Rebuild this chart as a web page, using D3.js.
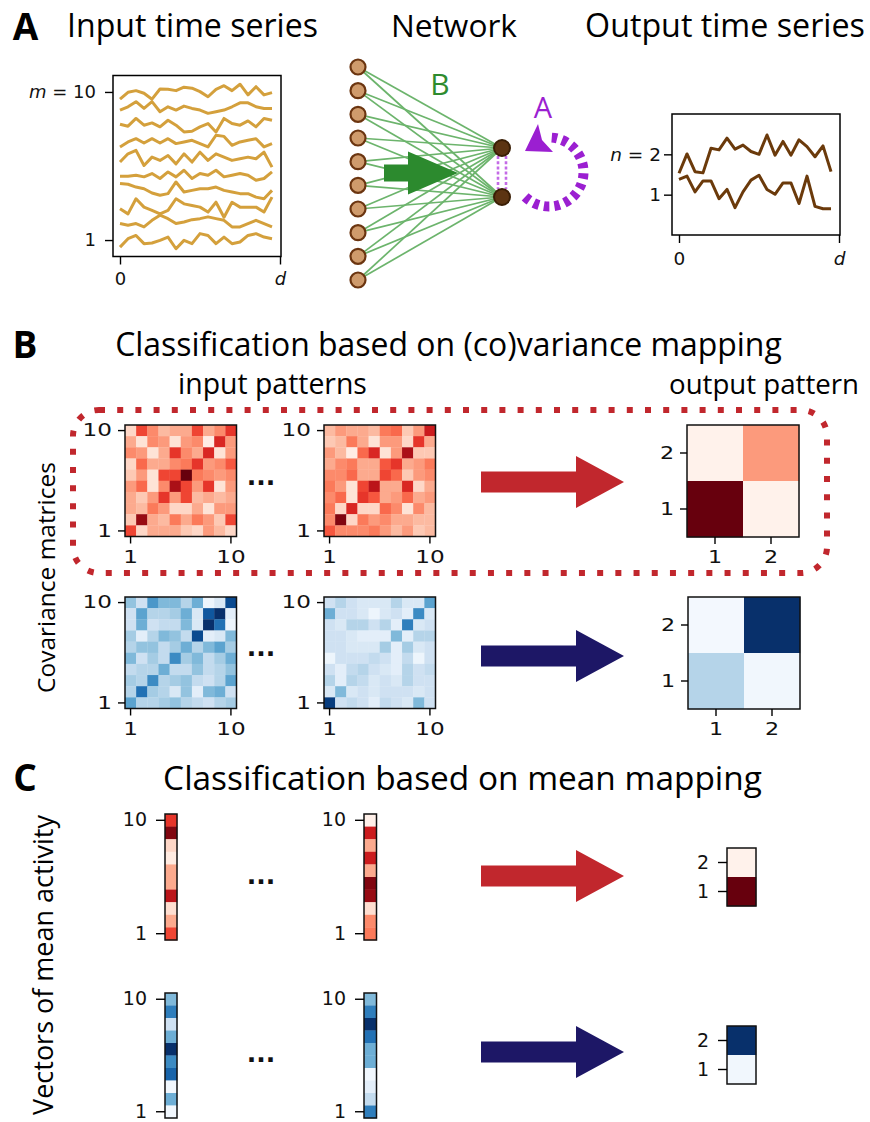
<!DOCTYPE html>
<html>
<head>
<meta charset="utf-8">
<script src="https://cdn.jsdelivr.net/npm/d3@7"></script>
<style>
  body { margin: 0; background: #fff; }
  svg { display: block; }
</style>
</head>
<body>
<svg id="fig" width="870" height="1122"></svg>
<script>
(function (d3) {
  'use strict';

  // time axis: 20 samples between 0 and d (d = 1)
  const T = d3.range(20).map((i) => i / 20);

  // input time series, m = 1 .. 10
  const inputSeries = [
    [0.57, 1.08, 1.28, 0.78, 0.82, 0.98, 1.18, 0.47, 0.98, 0.78, 1.39, 1.28, 0.78, 1.18, 0.78, 0.88, 1.28, 1.39, 1.18, 1.08],
    [2.00, 1.90, 2.00, 1.80, 2.20, 2.51, 2.30, 2.00, 2.10, 2.24, 2.30, 2.41, 2.30, 2.20, 1.80, 1.80, 2.00, 2.20, 2.00, 1.80],
    [2.90, 2.59, 3.51, 3.00, 2.80, 2.59, 2.80, 3.51, 3.20, 3.10, 3.00, 2.70, 3.30, 2.39, 3.30, 3.00, 3.00, 3.00, 2.70, 3.61],
    [4.43, 4.39, 4.22, 4.12, 3.86, 3.72, 3.82, 4.53, 3.92, 4.02, 4.12, 4.12, 4.22, 4.02, 3.92, 3.82, 3.82, 3.61, 3.51, 4.02],
    [4.88, 4.88, 4.94, 4.84, 5.04, 4.74, 5.14, 4.84, 5.24, 4.74, 5.04, 4.94, 5.24, 4.84, 4.94, 5.04, 4.94, 4.63, 4.74, 5.14],
    [5.74, 6.24, 6.45, 5.53, 6.04, 5.84, 6.14, 5.63, 6.24, 5.74, 6.34, 5.84, 6.24, 6.04, 5.84, 5.94, 6.04, 5.94, 6.34, 5.43],
    [6.66, 6.96, 7.16, 6.90, 7.16, 6.90, 7.16, 6.86, 6.96, 7.06, 6.86, 6.66, 7.37, 7.30, 6.76, 6.96, 7.06, 7.16, 6.66, 6.86],
    [8.04, 7.92, 8.39, 7.98, 8.12, 7.88, 8.28, 7.98, 7.57, 7.61, 7.88, 8.08, 7.57, 8.39, 8.08, 7.98, 8.24, 7.88, 8.39, 8.28],
    [8.90, 9.10, 9.41, 9.00, 9.41, 8.80, 9.10, 8.90, 9.14, 9.00, 8.90, 8.70, 8.80, 8.90, 9.10, 9.34, 9.34, 9.10, 9.00, 9.00],
    [9.56, 9.98, 10.08, 9.92, 9.56, 10.18, 10.16, 10.08, 10.29, 10.23, 10.02, 9.71, 10.16, 10.38, 10.08, 10.47, 9.82, 10.32, 9.82, 9.96],
  ];

  // output time series, n = 1, 2
  const outputSeries = [
    [1.38, 1.46, 1.07, 1.34, 1.34, 0.90, 1.13, 0.68, 1.07, 1.36, 1.48, 1.13, 1.01, 1.29, 1.29, 0.78, 1.46, 0.71, 0.65, 0.65],
    [1.53, 2.01, 1.57, 1.54, 2.15, 2.11, 2.40, 2.13, 2.23, 2.07, 2.00, 2.48, 1.98, 2.32, 1.98, 2.36, 2.19, 1.94, 2.21, 1.57],
  ];

  // covariance matrices, rows listed from top (10) to bottom (1), colour level 0..1
  const covRed1 = [
    [0.15, 0.60, 0.40, 0.25, 0.30, 0.30, 0.60, 0.30, 0.40, 0.65],
    [0.30, 0.10, 0.40, 0.35, 0.10, 0.35, 0.40, 0.05, 0.70, 0.35],
    [0.40, 0.35, 0.10, 0.30, 0.65, 0.40, 0.30, 0.70, 0.10, 0.35],
    [0.15, 0.50, 0.30, 0.30, 0.40, 0.45, 0.65, 0.35, 0.40, 0.55],
    [0.20, 0.35, 0.10, 0.60, 0.60, 1.00, 0.45, 0.40, 0.35, 0.40],
    [0.35, 0.50, 0.10, 0.40, 0.85, 0.60, 0.35, 0.65, 0.10, 0.35],
    [0.30, 0.20, 0.35, 0.65, 0.35, 0.60, 0.25, 0.30, 0.25, 0.30],
    [0.30, 0.25, 0.45, 0.35, 0.15, 0.15, 0.30, 0.10, 0.35, 0.35],
    [0.20, 0.90, 0.30, 0.25, 0.45, 0.30, 0.45, 0.35, 0.20, 0.60],
    [0.60, 0.15, 0.30, 0.30, 0.30, 0.20, 0.15, 0.35, 0.25, 0.15],
  ];
  const covRed2 = [
    [0.25, 0.35, 0.30, 0.30, 0.25, 0.45, 0.50, 0.20, 0.35, 0.75],
    [0.20, 0.25, 0.45, 0.30, 0.10, 0.35, 0.35, 0.15, 0.65, 0.30],
    [0.35, 0.25, 0.05, 0.50, 0.70, 0.10, 0.35, 0.85, 0.20, 0.20],
    [0.30, 0.40, 0.45, 0.30, 0.30, 0.55, 0.65, 0.30, 0.35, 0.45],
    [0.40, 0.40, 0.50, 0.30, 0.30, 0.60, 0.50, 0.20, 0.35, 0.40],
    [0.45, 0.35, 0.10, 0.60, 0.80, 0.30, 0.30, 0.70, 0.15, 0.30],
    [0.40, 0.50, 0.10, 0.65, 0.55, 0.30, 0.35, 0.50, 0.30, 0.35],
    [0.45, 0.15, 0.70, 0.15, 0.15, 0.50, 0.40, 0.10, 0.40, 0.25],
    [0.40, 0.95, 0.15, 0.45, 0.35, 0.40, 0.30, 0.30, 0.25, 0.25],
    [0.55, 0.40, 0.40, 0.40, 0.45, 0.35, 0.25, 0.35, 0.20, 0.25],
  ];
  const covBlue1 = [
    [0.40, 0.20, 0.60, 0.45, 0.45, 0.30, 0.50, 0.05, 0.15, 0.90],
    [0.20, 0.55, 0.30, 0.30, 0.35, 0.50, 0.15, 0.85, 1.00, 0.10],
    [0.20, 0.50, 0.20, 0.25, 0.25, 0.45, 0.15, 1.00, 0.75, 0.05],
    [0.35, 0.10, 0.30, 0.45, 0.40, 0.25, 0.90, 0.10, 0.15, 0.45],
    [0.30, 0.40, 0.40, 0.25, 0.35, 0.50, 0.30, 0.45, 0.55, 0.35],
    [0.45, 0.20, 0.35, 0.25, 0.65, 0.35, 0.45, 0.25, 0.35, 0.50],
    [0.25, 0.30, 0.30, 0.50, 0.25, 0.25, 0.40, 0.25, 0.30, 0.40],
    [0.35, 0.30, 0.65, 0.30, 0.35, 0.40, 0.25, 0.20, 0.30, 0.55],
    [0.30, 0.75, 0.35, 0.30, 0.15, 0.40, 0.10, 0.45, 0.50, 0.20],
    [0.55, 0.30, 0.30, 0.35, 0.40, 0.30, 0.25, 0.20, 0.30, 0.35],
  ];
  const covBlue2 = [
    [0.20, 0.30, 0.20, 0.15, 0.15, 0.15, 0.30, 0.15, 0.15, 0.55],
    [0.50, 0.20, 0.20, 0.15, 0.05, 0.15, 0.20, 0.10, 0.65, 0.15],
    [0.20, 0.15, 0.30, 0.30, 0.20, 0.30, 0.10, 0.70, 0.15, 0.20],
    [0.20, 0.20, 0.15, 0.10, 0.10, 0.10, 0.45, 0.10, 0.30, 0.30],
    [0.20, 0.20, 0.15, 0.15, 0.15, 0.35, 0.10, 0.35, 0.15, 0.20],
    [0.05, 0.20, 0.20, 0.20, 0.25, 0.20, 0.10, 0.25, 0.05, 0.20],
    [0.20, 0.10, 0.25, 0.30, 0.20, 0.15, 0.10, 0.30, 0.20, 0.25],
    [0.30, 0.10, 0.30, 0.25, 0.15, 0.20, 0.15, 0.30, 0.20, 0.20],
    [0.15, 0.45, 0.15, 0.20, 0.15, 0.20, 0.20, 0.20, 0.15, 0.20],
    [0.95, 0.20, 0.25, 0.20, 0.10, 0.25, 0.20, 0.15, 0.45, 0.20],
  ];
  // output covariance patterns, rows top (2) to bottom (1)
  const outCovRed = [[0.02, 0.35], [1.00, 0.02]];
  const outCovBlue = [[0.02, 1.00], [0.30, 0.03]];

  // mean activity vectors, listed top (10) to bottom (1)
  const meanRed1 = [0.65, 0.95, 0.15, 0.06, 0.30, 0.30, 0.80, 0.12, 0.30, 0.60];
  const meanRed2 = [0.03, 0.75, 0.30, 0.75, 0.30, 0.95, 0.90, 0.12, 0.40, 0.45];
  const meanBlue1 = [0.45, 0.70, 0.20, 0.50, 1.00, 0.65, 0.80, 0.03, 0.50, 0.03];
  const meanBlue2 = [0.45, 0.70, 1.00, 0.75, 0.50, 0.50, 0.03, 0.10, 0.25, 0.70];
  // output mean patterns, top (2) to bottom (1)
  const outMeanRed = [0.02, 1.00];
  const outMeanBlue = [1.00, 0.03];

  const TITLE_FONT = 'Open Sans';
  const TICK_FONT = 'DejaVu Sans';
  const TICK_SIZE = 18;
  const RED = '#c1272d';
  const NAVY = '#1d1766';

  const svg = d3.select('#fig');
  svg.append('rect').attr('width', 870).attr('height', 1122).attr('fill', '#fff');

  // text fitted to a horizontal span
  const fitText = (txt, x0, x1, baseline, opts = {}) => {
    const t = svg.append('text')
      .attr('text-anchor', 'middle')
      .attr('font-family', TITLE_FONT)
      .attr('font-weight', opts.bold ? 700 : 400)
      .attr('fill', opts.color || '#000')
      .attr('font-size', 30)
      .text(txt);
    const w = t.node().getComputedTextLength();
    t.attr('font-size', Math.min(opts.max || 99, 30 * (x1 - x0) / w));
    if (opts.rotate) {
      t.attr('transform', `translate(${baseline},${(x0 + x1) / 2}) rotate(-90)`);
    } else {
      t.attr('x', (x0 + x1) / 2).attr('y', baseline);
    }
    return t;
  };

  const styleAxis = (g, size = TICK_SIZE) => {
    g.attr('font-size', size).attr('font-family', TICK_FONT);
    g.select('.domain').remove();
    g.selectAll('.tick line').attr('stroke', '#000').attr('stroke-width', 1.4);
    g.selectAll('.tick text').attr('fill', '#111');
    return g;
  };

  const italicTick = (g, value, sym, rest) => {
    g.selectAll('.tick text').each(function (d) {
      if (d !== value) return;
      const t = d3.select(this).text('');
      t.append('tspan').attr('font-style', 'italic').text(sym);
      if (rest) t.append('tspan').text(rest);
    });
  };

  // ---------- Panel A ----------
  fitText('A', 12, 39, 40, { bold: true, max: 37 });
  fitText('Input time series', 67, 318, 37);
  fitText('Network', 391, 517, 37);
  fitText('Output time series', 585, 865, 37);

  // input time series
  const xIn = d3.scaleLinear().domain([-7 / 160, 1 + 1 / 160]).range([113, 281]);
  const yIn = d3.scaleLinear().domain([0, 11]).range([256.5, 75.5]);
  const lineIn = d3.line().x((v, i) => xIn(T[i])).y((v) => yIn(v));
  svg.append('g').selectAll('path').data(inputSeries).join('path')
    .attr('d', lineIn)
    .attr('fill', 'none')
    .attr('stroke', '#d4a03c')
    .attr('stroke-width', 3)
    .attr('stroke-linejoin', 'round');
  svg.append('rect')
    .attr('x', xIn.range()[0]).attr('y', yIn.range()[1])
    .attr('width', xIn.range()[1] - xIn.range()[0])
    .attr('height', yIn.range()[0] - yIn.range()[1])
    .attr('fill', 'none').attr('stroke', '#000').attr('stroke-width', 1.5);
  const gInY = svg.append('g').attr('transform', `translate(${xIn.range()[0]},0)`)
    .call(d3.axisLeft(yIn).tickValues([1, 10]).tickSize(8).tickPadding(9).tickFormat(d3.format('d')));
  styleAxis(gInY, 18);
  italicTick(gInY, 10, 'm', ' = 10');
  const gInX = svg.append('g').attr('transform', `translate(0,${yIn.range()[0]})`)
    .call(d3.axisBottom(xIn).tickValues([0, 1]).tickSize(8).tickPadding(8).tickFormat((d) => (d === 0 ? '0' : '')));
  styleAxis(gInX, 18);
  italicTick(gInX, 1, 'd');

  // output time series
  const xOut = d3.scaleLinear().domain([-7 / 160, 1 + 1 / 160]).range([672, 840]);
  const yOut = d3.scaleLinear().domain([0, 3]).range([235, 114]);
  const lineOut = d3.line().x((v, i) => xOut(T[i])).y((v) => yOut(v));
  svg.append('g').selectAll('path').data(outputSeries).join('path')
    .attr('d', lineOut)
    .attr('fill', 'none')
    .attr('stroke', '#6b3a0b')
    .attr('stroke-width', 3)
    .attr('stroke-linejoin', 'round');
  svg.append('rect')
    .attr('x', 672).attr('y', 114).attr('width', 168).attr('height', 121)
    .attr('fill', 'none').attr('stroke', '#000').attr('stroke-width', 1.5);
  const gOutY = svg.append('g').attr('transform', 'translate(672,0)')
    .call(d3.axisLeft(yOut).tickValues([1, 2]).tickSize(8).tickPadding(3).tickFormat(d3.format('d')));
  styleAxis(gOutY, 18.5);
  italicTick(gOutY, 2, 'n', ' = 2');
  const gOutX = svg.append('g').attr('transform', 'translate(0,235)')
    .call(d3.axisBottom(xOut).tickValues([0, 1]).tickSize(8).tickPadding(9).tickFormat((d) => (d === 0 ? '0' : '')));
  styleAxis(gOutX, 18.5);
  italicTick(gOutX, 1, 'd');

  // network
  const inNodes = d3.range(1, 11);
  const outNodes = [1, 2];
  const inY = d3.scalePoint().domain(inNodes).range([280, 67]);
  const outY = d3.scalePoint().domain(outNodes).range([197, 148]);
  const IN_X = 358;
  const OUT_X = 502;
  const links = inNodes.flatMap((i) => outNodes.map((o) => ({ i, o })));
  svg.append('g').selectAll('line').data(links).join('line')
    .attr('x1', IN_X).attr('y1', (l) => inY(l.i))
    .attr('x2', OUT_X).attr('y2', (l) => outY(l.o))
    .attr('stroke', '#6cb46c').attr('stroke-width', 1.7);

  const blockArrow = (x0, x1, cy, shaftH, headW, headH) => {
    const xh = x1 - headW;
    return [
      [x0, cy - shaftH / 2], [xh, cy - shaftH / 2], [xh, cy - headH / 2], [x1, cy],
      [xh, cy + headH / 2], [xh, cy + shaftH / 2], [x0, cy + shaftH / 2],
    ].map((p) => p.join(',')).join(' ');
  };
  svg.append('polygon').attr('points', blockArrow(384, 458, 173, 17, 50, 43)).attr('fill', '#2c8a2e');
  svg.append('text').attr('x', 440).attr('y', 95).attr('text-anchor', 'middle')
    .attr('font-family', TITLE_FONT).attr('font-size', 30).attr('fill', '#2e8b2e').text('B');

  // lateral connections between outputs
  svg.append('g').selectAll('line').data([-4, 4]).join('line')
    .attr('x1', (d) => OUT_X + d).attr('x2', (d) => OUT_X + d)
    .attr('y1', outY(2) + 8).attr('y2', outY(1) - 8)
    .attr('stroke', '#c46ae6').attr('stroke-width', 2.6).attr('stroke-dasharray', '3 2.2');

  // recurrent loop A
  const loop = d3.path();
  loop.arc(549, 172, 34.5, -Math.PI / 2 + 0.08, Math.PI * 0.76);
  svg.append('path').attr('d', loop.toString())
    .attr('fill', 'none').attr('stroke', '#9b1fd1').attr('stroke-width', 10)
    .attr('stroke-dasharray', '5.5 5');
  svg.append('polygon')
    .attr('points', '525,151 538,124 542,140 553,152')
    .attr('fill', '#9b1fd1');
  svg.append('text').attr('x', 543).attr('y', 118).attr('text-anchor', 'middle')
    .attr('font-family', TITLE_FONT).attr('font-size', 29).attr('fill', '#9b1fd1').text('A');

  svg.append('g').selectAll('circle').data(inNodes).join('circle')
    .attr('cx', IN_X).attr('cy', (d) => inY(d)).attr('r', 7.5)
    .attr('fill', '#cf9b6c').attr('stroke', '#6b3510').attr('stroke-width', 2.2);
  svg.append('g').selectAll('circle').data(outNodes).join('circle')
    .attr('cx', OUT_X).attr('cy', (d) => outY(d)).attr('r', 8)
    .attr('fill', '#5c3412').attr('stroke', '#3a1e05').attr('stroke-width', 2);

  // ---------- heatmap helper ----------
  // stretch widens tick labels the way the reference's panel B labels are drawn
  const heatmap = (x0, y0, w, h, rows, interp, yTicks, xTicks, opts = {}) => {
    const { stretch = 1, size = 19, tick = 7, pad = 6 } = opts;
    const nr = rows.length;
    const nc = rows[0].length;
    const xs = d3.scaleBand().domain(d3.range(1, nc + 1)).range([x0, x0 + w]);
    const ys = d3.scaleBand().domain(d3.range(nr, 0, -1)).range([y0, y0 + h]);
    const color = d3.scaleSequential(interp).domain([0, 1]);
    const cells = rows.flatMap((row, r) => row.map((v, c) => ({ row: nr - r, col: c + 1, v })));
    const g = svg.append('g');
    g.selectAll('rect').data(cells).join('rect')
      .attr('x', (d) => xs(d.col)).attr('y', (d) => ys(d.row))
      .attr('width', xs.bandwidth() + 0.3).attr('height', ys.bandwidth() + 0.3)
      .attr('fill', (d) => color(d.v));
    g.append('rect').attr('x', x0).attr('y', y0).attr('width', w).attr('height', h)
      .attr('fill', 'none').attr('stroke', '#111').attr('stroke-width', 1.5);
    const axes = [styleAxis(svg.append('g').attr('transform', `translate(${x0},0)`)
      .call(d3.axisLeft(ys).tickValues(yTicks).tickSize(tick).tickPadding(pad)), size)];
    if (xTicks) {
      axes.push(styleAxis(svg.append('g').attr('transform', `translate(0,${y0 + h})`)
        .call(d3.axisBottom(xs).tickValues(xTicks).tickSize(tick).tickPadding(pad)), size));
    }
    if (stretch !== 1) {
      axes.forEach((a) => a.selectAll('.tick text').each(function () {
        const len = this.getComputedTextLength();
        d3.select(this).attr('textLength', len * stretch).attr('lengthAdjust', 'spacingAndGlyphs');
      }));
    }
  };

  const dots = (cx, cy) => {
    svg.append('text').attr('x', cx).attr('y', cy + 4).attr('text-anchor', 'middle')
      .attr('font-family', TICK_FONT).attr('font-weight', 700).attr('font-size', 25)
      .attr('fill', '#111').text('...');
  };

  // ---------- Panel B ----------
  fitText('B', 12, 38, 358, { bold: true, max: 37 });
  fitText('Classification based on (co)variance mapping', 115, 782, 356);
  fitText('input patterns', 178, 367, 394);
  fitText('output pattern', 669, 859, 394);
  fitText('Covariance matrices', 462, 693, 55, { rotate: true });

  svg.append('rect').attr('x', 73).attr('y', 410).attr('width', 754).attr('height', 163).attr('rx', 26)
    .attr('fill', 'none').attr('stroke', RED).attr('stroke-width', 6).attr('stroke-dasharray', '6 12.2');

  const optB = { stretch: 1.25, size: 18.5 };
  const optBOut = { stretch: 1.2, size: 18.5 };
  heatmap(125, 425, 111.5, 111.5, covRed1, d3.interpolateReds, [1, 10], [1, 10], optB);
  heatmap(324, 425, 111.5, 111.5, covRed2, d3.interpolateReds, [1, 10], [1, 10], optB);
  heatmap(125, 597, 111.5, 111.5, covBlue1, d3.interpolateBlues, [1, 10], [1, 10], optB);
  heatmap(324, 597, 111.5, 111.5, covBlue2, d3.interpolateBlues, [1, 10], [1, 10], optB);
  heatmap(687, 425, 112, 112, outCovRed, d3.interpolateReds, [1, 2], [1, 2], optBOut);
  heatmap(688, 597, 112, 112, outCovBlue, d3.interpolateBlues, [1, 2], [1, 2], optBOut);
  dots(261, 481);
  dots(261, 652);
  svg.append('polygon').attr('points', blockArrow(481, 624, 482, 21, 48, 52)).attr('fill', RED);
  svg.append('polygon').attr('points', blockArrow(481, 624, 656, 21, 48, 52)).attr('fill', NAVY);

  // ---------- Panel C ----------
  fitText('C', 12, 38, 791, { bold: true, max: 37 });
  fitText('Classification based on mean mapping', 163, 762, 790);
  fitText('Vectors of mean activity', 815, 1115, 53, { rotate: true });

  const optC = { size: 19, tick: 9, pad: 9 };
  const col = (v) => v.map((x) => [x]);
  heatmap(165, 814, 12, 126, col(meanRed1), d3.interpolateReds, [1, 10], null, optC);
  heatmap(364, 814, 12.5, 126, col(meanRed2), d3.interpolateReds, [1, 10], null, optC);
  heatmap(165, 993, 12, 125, col(meanBlue1), d3.interpolateBlues, [1, 10], null, optC);
  heatmap(364, 993, 12.5, 125, col(meanBlue2), d3.interpolateBlues, [1, 10], null, optC);
  heatmap(727, 848, 29, 58, col(outMeanRed), d3.interpolateReds, [1, 2], null, optC);
  heatmap(727, 1026, 29, 58, col(outMeanBlue), d3.interpolateBlues, [1, 2], null, optC);
  dots(261, 880);
  dots(261, 1058);
  svg.append('polygon').attr('points', blockArrow(481, 624, 876, 21, 48, 52)).attr('fill', RED);
  svg.append('polygon').attr('points', blockArrow(481, 624, 1052, 21, 48, 52)).attr('fill', NAVY);
}(d3));
</script>
</body>
</html>
